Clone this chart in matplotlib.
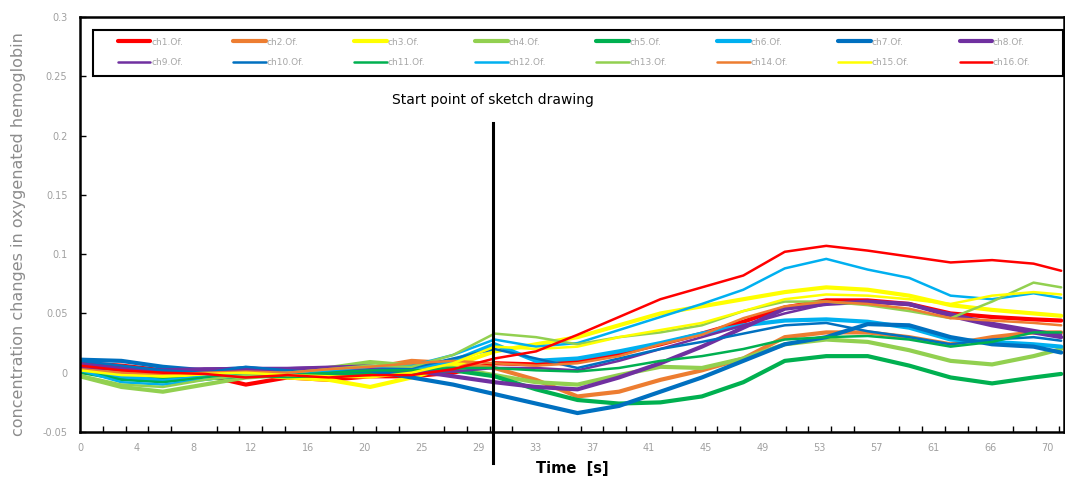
import numpy as np
import matplotlib.pyplot as plt
from matplotlib.patches import Rectangle
from matplotlib.ticker import FuncFormatter

# sample times [s]
t = [0, 3, 6, 9, 12, 15, 18, 21, 24, 27, 30, 33, 36, 39, 42, 45, 48, 51, 54, 57, 60, 63, 66, 69, 71]

ch1 = [0.008, 0.006, 0.002, -0.002, -0.010, -0.004, -0.006, -0.003, -0.003, 0.000, 0.008, 0.007, 0.010,
       0.016, 0.024, 0.033, 0.043, 0.055, 0.061, 0.061, 0.058, 0.050, 0.047, 0.045, 0.044]
ch2 = [0.006, 0.001, -0.002, -0.004, -0.002, -0.003, 0.002, 0.004, 0.010, 0.008, 0.004, -0.006, -0.020,
       -0.016, -0.006, 0.002, 0.012, 0.030, 0.034, 0.034, 0.030, 0.024, 0.030, 0.034, 0.034]
ch3 = [0.004, 0.000, -0.004, -0.003, -0.001, -0.004, -0.006, -0.012, -0.004, 0.006, 0.018, 0.024, 0.030,
       0.040, 0.050, 0.056, 0.062, 0.068, 0.072, 0.070, 0.065, 0.057, 0.053, 0.050, 0.048]
ch4 = [-0.003, -0.012, -0.016, -0.010, -0.004, -0.002, 0.004, 0.009, 0.006, 0.004, -0.002, -0.008, -0.010,
       -0.002, 0.005, 0.004, 0.012, 0.024, 0.028, 0.026, 0.019, 0.010, 0.007, 0.014, 0.020]
ch5 = [0.002, -0.004, -0.006, -0.005, -0.002, -0.003, -0.002, 0.000, 0.000, 0.002, -0.003, -0.014, -0.023,
       -0.026, -0.025, -0.020, -0.008, 0.010, 0.014, 0.014, 0.006, -0.004, -0.009, -0.004, -0.001]
ch6 = [0.005, -0.003, -0.007, -0.004, 0.000, 0.001, 0.002, 0.003, 0.004, 0.010, 0.024, 0.010, 0.012,
       0.018, 0.025, 0.033, 0.040, 0.044, 0.045, 0.043, 0.038, 0.028, 0.026, 0.024, 0.022]
ch7 = [0.011, 0.010, 0.005, 0.002, 0.004, 0.001, 0.001, 0.002, -0.004, -0.010, -0.018, -0.026, -0.034,
       -0.028, -0.016, -0.004, 0.010, 0.024, 0.030, 0.041, 0.040, 0.030, 0.024, 0.022, 0.017]
ch8 = [0.005, 0.003, 0.002, 0.003, 0.003, 0.003, 0.004, 0.004, 0.002, -0.003, -0.008, -0.012, -0.014,
       -0.004, 0.008, 0.022, 0.038, 0.054, 0.058, 0.060, 0.058, 0.048, 0.040, 0.034, 0.030]
ch9 = [0.008, 0.004, 0.002, 0.003, 0.004, 0.004, 0.005, 0.006, 0.002, 0.001, 0.004, 0.004, 0.002,
       0.010, 0.020, 0.030, 0.040, 0.050, 0.058, 0.060, 0.057, 0.050, 0.042, 0.036, 0.032]
ch10 = [0.010, 0.006, 0.002, 0.000, 0.005, 0.002, 0.000, 0.002, 0.004, 0.012, 0.020, 0.012, 0.004,
        0.012, 0.020, 0.026, 0.033, 0.040, 0.042, 0.035, 0.030, 0.024, 0.028, 0.030, 0.027]
ch11 = [0.000, -0.006, -0.008, -0.004, -0.002, -0.001, 0.000, 0.002, 0.002, 0.004, 0.004, 0.002, 0.001,
        0.004, 0.010, 0.014, 0.020, 0.028, 0.030, 0.031, 0.028, 0.022, 0.026, 0.034, 0.034]
ch12 = [0.002, -0.008, -0.010, -0.006, -0.002, 0.000, 0.002, 0.005, 0.006, 0.015, 0.028, 0.022, 0.025,
        0.036, 0.047, 0.058, 0.070, 0.088, 0.096, 0.087, 0.080, 0.065, 0.062, 0.067, 0.063]
ch13 = [-0.002, -0.010, -0.012, -0.006, -0.002, 0.000, 0.003, 0.006, 0.005, 0.015, 0.033, 0.030, 0.024,
        0.030, 0.034, 0.040, 0.052, 0.060, 0.060, 0.057, 0.052, 0.046, 0.060, 0.076, 0.072]
ch14 = [0.003, 0.000, -0.002, 0.000, 0.001, 0.000, 0.003, 0.005, 0.008, 0.010, 0.008, 0.006, 0.008,
        0.014, 0.024, 0.032, 0.046, 0.056, 0.060, 0.058, 0.054, 0.046, 0.044, 0.042, 0.040]
ch15 = [0.002, -0.002, -0.003, -0.001, 0.000, -0.002, -0.003, -0.004, 0.000, 0.008, 0.022, 0.020, 0.022,
        0.030, 0.036, 0.042, 0.052, 0.062, 0.066, 0.065, 0.062, 0.058, 0.065, 0.068, 0.066]
ch16 = [0.006, 0.002, 0.000, -0.001, -0.004, -0.002, -0.004, -0.002, -0.002, 0.003, 0.012, 0.018, 0.032,
        0.047, 0.062, 0.072, 0.082, 0.102, 0.107, 0.103, 0.098, 0.093, 0.095, 0.092, 0.086]

series = [ch1, ch2, ch3, ch4, ch5, ch6, ch7, ch8, ch9, ch10, ch11, ch12, ch13, ch14, ch15, ch16]
names = [f"ch{i}.Of." for i in range(1, 17)]
colors = ["#FF0000", "#ED7D31", "#FFFF00", "#92D050", "#00B050", "#00B0F0", "#0070C0", "#7030A0",
          "#7030A0", "#0070C0", "#00B050", "#00B0F0", "#92D050", "#ED7D31", "#FFFF00", "#FF0000"]

x_labels = ["0", "4", "8", "12", "16", "20", "25", "29", "33", "37", "41", "45", "49", "53", "57", "61", "66", "70"]
sketch_start = 29.9

fig = plt.figure(figsize=(10.65, 4.82), dpi=100)
ax = fig.add_axes([0.0751, 0.1037, 0.9239, 0.861])

handles = []
for i, (vals, name, col) in enumerate(zip(series, names, colors)):
    lw = 3.0 if i < 8 else 1.8
    h, = ax.plot(t, vals, color=col, lw=lw, label=name, solid_capstyle='round')
    handles.append(h)

ax.set_xlim(0, 71.2)
ax.set_ylim(-0.05, 0.3)

# category-like axis: labels every 5 categories, ticks every 2
step = 70 / 17
ax.set_xticks([i * step for i in range(len(x_labels))])
ax.set_xticklabels(x_labels)
ax.set_xticks(np.arange(0, 71.2, step / 2.5), minor=True)
ax.tick_params(axis='x', which='major', length=0, pad=8, labelsize=7, labelcolor='#A0A0A0')
ax.tick_params(axis='x', which='minor', direction='in', length=4, width=1, color='black')
ax.set_yticks(np.arange(-0.05, 0.301, 0.05))
ax.yaxis.set_major_formatter(FuncFormatter(lambda v, p: f"{round(v, 2):g}"))
ax.tick_params(axis='y', direction='in', length=4, width=1, pad=9, labelsize=7, labelcolor='#A0A0A0')

for s in ax.spines.values():
    s.set_linewidth(1.8)
    s.set_color('black')

ax.set_ylabel("concentration changes in oxygenated hemoglobin", fontsize=11.5, color='#8C8C8C')
ax.yaxis.set_label_coords(-0.055, 0.478)
ax.set_xlabel("Time  [s]", fontsize=10.5, fontweight='bold', color='black', labelpad=6)

# start marker
ax.plot([sketch_start, sketch_start], [0.211, -0.076], color='black', lw=2.2, clip_on=False)
ax.text(sketch_start, 0.23, "Start point of sketch drawing", ha='center', va='center', fontsize=10)

# legend: two rows of eight
order = []
for c in range(8):
    order += [handles[c], handles[c + 8]]
leg = ax.legend(order, [h.get_label() for h in order], ncol=8, loc='upper left',
                bbox_to_anchor=(0.030, 0.970), frameon=False, fontsize=6.5,
                labelcolor='#A6A6A6', handlelength=3.6, handletextpad=0.1,
                columnspacing=5.55, labelspacing=1.3)
ax.add_patch(Rectangle((0.0132, 0.857), 0.9857, 0.112, transform=ax.transAxes,
                       fill=False, edgecolor='black', lw=1.5, zorder=5))

fig.savefig("out.png", dpi=100)
